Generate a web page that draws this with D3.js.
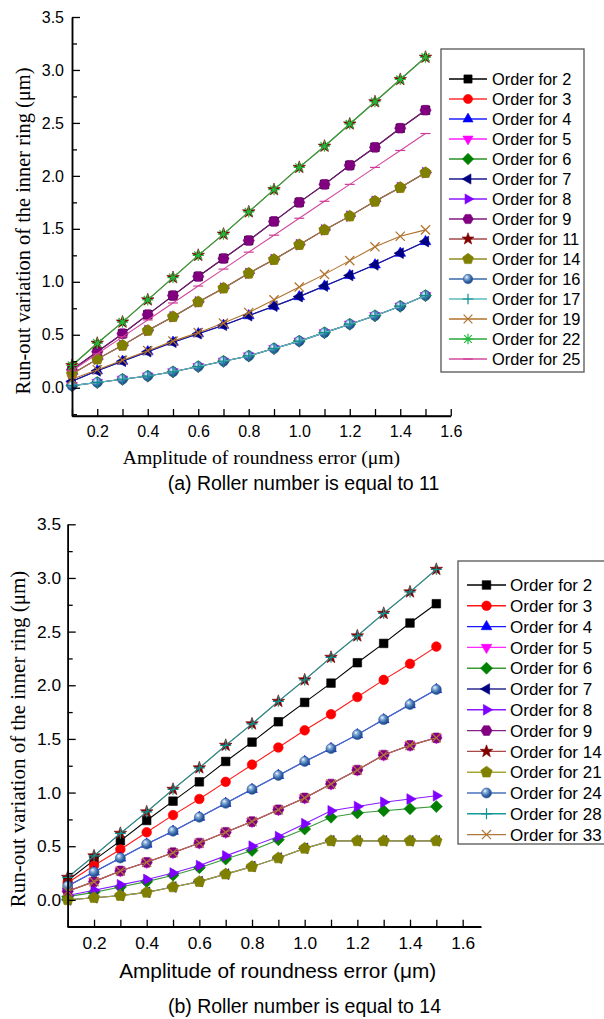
<!DOCTYPE html>
<html>
<head>
<meta charset="utf-8">
<script src="https://cdn.jsdelivr.net/npm/d3@7"></script>
<style>
  body { margin: 0; background: #fff; }
  svg { display: block; }
</style>
</head>
<body>
<svg id="fig" width="604" height="1019"></svg>
<script>
// Amplitude of roundness error (µm), shared by both panels
const amplitude = [0.1, 0.2, 0.3, 0.4, 0.5, 0.6, 0.7, 0.8, 0.9, 1.0, 1.1, 1.2, 1.3, 1.4, 1.5];

// Axis ticks
const xMajorTicks = [0.2, 0.4, 0.6, 0.8, 1.0, 1.2, 1.4, 1.6];
const xMinorTicks = [0.1, 0.3, 0.5, 0.7, 0.9, 1.1, 1.3, 1.5];
const yMajorTicks = [0.0, 0.5, 1.0, 1.5, 2.0, 2.5, 3.0, 3.5];
const yMinorTicks = [-0.25, 0.25, 0.75, 1.25, 1.75, 2.25, 2.75, 3.25];

// (a) Roller number 11: run-out variation of the inner ring (µm) per harmonic order
const ordersZ11 = [2, 3, 4, 5, 6, 7, 8, 9, 11, 14, 16, 17, 19, 22, 25];
const z11_o2  = [0.17, 0.34, 0.51, 0.69, 0.87, 1.05, 1.22, 1.39, 1.57, 1.75, 1.92, 2.10, 2.27, 2.45, 2.62];
const z11_o3  = [0.13, 0.27, 0.40, 0.54, 0.67, 0.81, 0.94, 1.08, 1.21, 1.35, 1.49, 1.62, 1.76, 1.89, 2.03];
const z11_o4  = [0.06, 0.16, 0.25, 0.34, 0.43, 0.51, 0.59, 0.68, 0.77, 0.86, 0.96, 1.06, 1.16, 1.27, 1.38];
const z11_o5  = [0.02, 0.05, 0.08, 0.11, 0.15, 0.20, 0.25, 0.30, 0.37, 0.44, 0.52, 0.60, 0.68, 0.77, 0.87];
const z11_o6  = [0.02, 0.05, 0.08, 0.11, 0.15, 0.20, 0.25, 0.30, 0.37, 0.44, 0.52, 0.60, 0.68, 0.77, 0.87];
const z11_o7  = [0.06, 0.16, 0.25, 0.34, 0.43, 0.51, 0.59, 0.68, 0.77, 0.86, 0.96, 1.06, 1.16, 1.27, 1.38];
const z11_o8  = [0.13, 0.27, 0.40, 0.54, 0.67, 0.81, 0.94, 1.08, 1.21, 1.35, 1.49, 1.62, 1.76, 1.89, 2.03];
const z11_o9  = [0.17, 0.34, 0.51, 0.69, 0.87, 1.05, 1.22, 1.39, 1.57, 1.75, 1.92, 2.10, 2.27, 2.45, 2.62];
const z11_o11 = [0.21, 0.42, 0.62, 0.83, 1.04, 1.25, 1.45, 1.66, 1.87, 2.08, 2.28, 2.49, 2.70, 2.91, 3.12];
const z11_o14 = [0.13, 0.27, 0.40, 0.54, 0.67, 0.81, 0.94, 1.08, 1.21, 1.35, 1.49, 1.62, 1.76, 1.89, 2.03];
const z11_o16 = [0.02, 0.05, 0.08, 0.11, 0.15, 0.20, 0.25, 0.30, 0.37, 0.44, 0.52, 0.60, 0.68, 0.77, 0.87];
const z11_o17 = [0.02, 0.05, 0.08, 0.11, 0.15, 0.20, 0.25, 0.30, 0.37, 0.44, 0.52, 0.60, 0.68, 0.77, 0.87];
const z11_o19 = [0.08, 0.17, 0.26, 0.35, 0.44, 0.52, 0.61, 0.71, 0.83, 0.95, 1.07, 1.20, 1.33, 1.43, 1.49];
const z11_o22 = [0.21, 0.42, 0.62, 0.83, 1.04, 1.25, 1.45, 1.66, 1.87, 2.08, 2.28, 2.49, 2.70, 2.91, 3.12];
const z11_o25 = [0.16, 0.32, 0.48, 0.64, 0.80, 0.96, 1.12, 1.28, 1.44, 1.60, 1.76, 1.92, 2.08, 2.24, 2.40];
const valuesZ11 = [z11_o2, z11_o3, z11_o4, z11_o5, z11_o6, z11_o7, z11_o8, z11_o9,
                   z11_o11, z11_o14, z11_o16, z11_o17, z11_o19, z11_o22, z11_o25];

// (b) Roller number 14
const ordersZ14 = [2, 3, 4, 5, 6, 7, 8, 9, 14, 21, 24, 28, 33];
const z14_o2  = [0.18, 0.37, 0.55, 0.74, 0.92, 1.10, 1.29, 1.47, 1.66, 1.84, 2.02, 2.21, 2.39, 2.58, 2.76];
const z14_o3  = [0.16, 0.32, 0.47, 0.63, 0.79, 0.94, 1.10, 1.26, 1.42, 1.58, 1.73, 1.89, 2.05, 2.20, 2.36];
const z14_o4  = [0.13, 0.26, 0.39, 0.52, 0.64, 0.77, 0.90, 1.03, 1.16, 1.29, 1.41, 1.54, 1.68, 1.82, 1.96];
const z14_o5  = [0.08, 0.17, 0.27, 0.35, 0.44, 0.53, 0.63, 0.73, 0.84, 0.95, 1.08, 1.21, 1.35, 1.44, 1.51];
const z14_o6  = [0.03, 0.07, 0.12, 0.17, 0.23, 0.30, 0.38, 0.46, 0.56, 0.66, 0.77, 0.81, 0.83, 0.85, 0.87];
const z14_o7  = [0.00, 0.02, 0.04, 0.07, 0.12, 0.17, 0.24, 0.31, 0.39, 0.48, 0.55, 0.55, 0.55, 0.55, 0.55];
const z14_o8  = [0.04, 0.09, 0.14, 0.19, 0.25, 0.32, 0.41, 0.50, 0.59, 0.71, 0.83, 0.87, 0.91, 0.94, 0.97];
const z14_o9  = [0.08, 0.17, 0.27, 0.35, 0.44, 0.53, 0.63, 0.73, 0.84, 0.95, 1.08, 1.21, 1.35, 1.44, 1.51];
const z14_o14 = [0.21, 0.41, 0.62, 0.82, 1.03, 1.23, 1.44, 1.64, 1.85, 2.05, 2.26, 2.46, 2.67, 2.87, 3.08];
const z14_o21 = [0.00, 0.02, 0.04, 0.07, 0.12, 0.17, 0.24, 0.31, 0.39, 0.48, 0.55, 0.55, 0.55, 0.55, 0.55];
const z14_o24 = [0.13, 0.26, 0.39, 0.52, 0.64, 0.77, 0.90, 1.03, 1.16, 1.29, 1.41, 1.54, 1.68, 1.82, 1.96];
const z14_o28 = [0.21, 0.41, 0.62, 0.82, 1.03, 1.23, 1.44, 1.64, 1.85, 2.05, 2.26, 2.46, 2.67, 2.87, 3.08];
const z14_o33 = [0.08, 0.17, 0.27, 0.35, 0.44, 0.53, 0.63, 0.73, 0.84, 0.95, 1.08, 1.21, 1.35, 1.44, 1.51];
const valuesZ14 = [z14_o2, z14_o3, z14_o4, z14_o5, z14_o6, z14_o7, z14_o8, z14_o9,
                   z14_o14, z14_o21, z14_o24, z14_o28, z14_o33];

// ---------- symbol shapes ----------
function polygon(R, n, startDeg) {
  const pts = d3.range(n).map(i => {
    const a = (startDeg + i * 360 / n) * Math.PI / 180;
    return [R * Math.cos(a), R * Math.sin(a)];
  });
  return "M" + pts.map(p => p[0].toFixed(2) + "," + p[1].toFixed(2)).join("L") + "Z";
}
function starPath(R, r) {
  const pts = d3.range(10).map(i => {
    const a = (-90 + i * 36) * Math.PI / 180;
    const rr = i % 2 ? r : R;
    return [rr * Math.cos(a), rr * Math.sin(a)];
  });
  return "M" + pts.map(p => p[0].toFixed(2) + "," + p[1].toFixed(2)).join("L") + "Z";
}
const shapes = {
  square:   s => `M${-4.3*s},${-4.3*s}h${8.6*s}v${8.6*s}h${-8.6*s}Z`,
  circle:   s => d3.symbol(d3.symbolCircle, Math.PI * Math.pow(4.8*s, 2))(),
  triUp:    s => polygon(6.2*s, 3, -90),
  triDown:  s => polygon(6.2*s, 3, 90),
  triLeft:  s => polygon(6.2*s, 3, 180),
  triRight: s => polygon(6.2*s, 3, 0),
  diamond:  s => polygon(6.0*s, 4, -90),
  hexagon:  s => polygon(5.6*s, 6, 0),
  pentagon: s => polygon(6.0*s, 5, -90),
  star:     s => starPath(6.6*s, 2.7*s),
  sphere:   s => d3.symbol(d3.symbolCircle, Math.PI * Math.pow(5.0*s, 2))(),
  plus:     s => `M${-5.5*s},0H${5.5*s}M0,${-5.5*s}V${5.5*s}`,
  cross:    s => `M${-4.6*s},${-4.6*s}L${4.6*s},${4.6*s}M${-4.6*s},${4.6*s}L${4.6*s},${-4.6*s}`,
  asterisk: s => `M${-5.6*s},0H${5.6*s}M0,${-5.6*s}V${5.6*s}M${-4*s},${-4*s}L${4*s},${4*s}M${-4*s},${4*s}L${4*s},${-4*s}`,
  dash:     s => `M${-5*s},0H${5*s}`
};
const strokeShapes = new Set(["plus", "cross", "asterisk", "dash"]);

// ---------- series styles ----------
const stylesZ11 = [
  { shape: "square",   color: "#000000", line: "#000000" },
  { shape: "circle",   color: "#ff0000", line: "#ff3030" },
  { shape: "triUp",    color: "#0000ff", line: "#2020ff" },
  { shape: "triDown",  color: "#ff00ff", line: "#ff20ff" },
  { shape: "diamond",  color: "#008000", line: "#2a902a" },
  { shape: "triLeft",  color: "#000080", line: "#1a1a8c" },
  { shape: "triRight", color: "#8000ff", line: "#8a1aff" },
  { shape: "hexagon",  color: "#800080", line: "#801a80" },
  { shape: "star",     color: "#800000", line: "#a04848" },
  { shape: "pentagon", color: "#808000", line: "#8c8c20" },
  { shape: "sphere",   color: "#2f62a6", line: "#3a68aa" },
  { shape: "plus",     color: "#108c8c", line: "#5cbcbc" },
  { shape: "cross",    color: "#b0722c", line: "#b0722c" },
  { shape: "asterisk", color: "#1fb83c", line: "#2aa83a" },
  { shape: "dash",     color: "#d03c98", line: "#d0489c" }
];
const stylesZ14 = [
  { shape: "square",   color: "#000000", line: "#000000" },
  { shape: "circle",   color: "#ff0000", line: "#ff1a1a" },
  { shape: "triUp",    color: "#0000ff", line: "#1a1aff" },
  { shape: "triDown",  color: "#ff00ff", line: "#ff2aff" },
  { shape: "diamond",  color: "#008000", line: "#3a9a3a" },
  { shape: "triLeft",  color: "#000080", line: "#2a2a90" },
  { shape: "triRight", color: "#8000ff", line: "#8a1aff" },
  { shape: "hexagon",  color: "#800080", line: "#882088" },
  { shape: "star",     color: "#800000", line: "#a84848" },
  { shape: "pentagon", color: "#808000", line: "#a6a634" },
  { shape: "sphere",   color: "#2f62a6", line: "#4a72bc" },
  { shape: "plus",     color: "#0e9090", line: "#169a9a" },
  { shape: "cross",    color: "#b07838", line: "#b07838" }
];

const svg = d3.select("#fig");
const defs = svg.append("defs");
const grad = defs.append("radialGradient").attr("id", "sphereFill")
  .attr("cx", "38%").attr("cy", "35%").attr("r", "65%").attr("fx", "35%").attr("fy", "30%");
grad.append("stop").attr("offset", "0%").attr("stop-color", "#f4f8ff");
grad.append("stop").attr("offset", "30%").attr("stop-color", "#86acd8");
grad.append("stop").attr("offset", "70%").attr("stop-color", "#3466a8");
grad.append("stop").attr("offset", "100%").attr("stop-color", "#1c4680");

function drawMarker(g, style, cx, cy, s) {
  const p = g.append("path").attr("d", shapes[style.shape](s))
    .attr("transform", `translate(${cx},${cy})`);
  if (strokeShapes.has(style.shape)) {
    p.attr("fill", "none").attr("stroke", style.color).attr("stroke-width", 1.2);
  } else if (style.shape === "sphere") {
    p.attr("fill", "url(#sphereFill)").attr("stroke", "#2a5a98").attr("stroke-width", 0.6);
  } else {
    p.attr("fill", style.color).attr("stroke", style.color).attr("stroke-width", 0.6);
  }
}

function drawPanel(cfg) {
  const x = d3.scaleLinear().domain(cfg.xDomain).range(cfg.xRange);
  const y = d3.scaleLinear().domain(cfg.yDomain).range(cfg.yRange);
  const g = svg.append("g");

  // series: line then markers, in legend order
  const line = d3.line().x((d, i) => x(amplitude[i])).y(d => y(d));
  cfg.values.forEach((vals, k) => {
    const st = cfg.styles[k];
    const sg = g.append("g");
    sg.append("path").attr("d", line(vals)).attr("fill", "none")
      .attr("stroke", st.line).attr("stroke-width", 1.1);
    vals.forEach((v, i) => drawMarker(sg, st, x(amplitude[i]), y(v), cfg.markerScale));
  });

  // axes with inward ticks
  const x0 = cfg.xRange[0], yb = cfg.yRange[0];
  const ax = g.append("g").attr("transform", `translate(0,${yb})`);
  ax.call(d3.axisBottom(x).tickValues(xMajorTicks).tickSizeInner(-7).tickSizeOuter(0)
      .tickPadding(cfg.xPad).tickFormat(d3.format(".1f")));
  ax.append("g").call(d3.axisBottom(x).tickValues(xMinorTicks).tickSizeInner(-7).tickSizeOuter(0)
      .tickFormat(""));
  const ay = g.append("g").attr("transform", `translate(${x0},0)`);
  ay.call(d3.axisLeft(y).tickValues(yMajorTicks).tickSizeInner(-8).tickSizeOuter(0)
      .tickPadding(cfg.yPad).tickFormat(d3.format(".1f")));
  ay.append("g").call(d3.axisLeft(y).tickValues(yMinorTicks).tickSizeInner(-5).tickSizeOuter(0)
      .tickFormat(""));
  [ax, ay].forEach(a => {
    a.attr("font-family", "'Liberation Sans', Arial, sans-serif").attr("font-size", cfg.tickFont);
    a.selectAll("path.domain").attr("stroke", "#000").attr("stroke-width", 1.5);
    a.selectAll("line").attr("stroke", "#000").attr("stroke-width", 1.3);
    a.selectAll("text").attr("fill", "#000");
  });
  ax.select("path.domain").remove();
  ax.append("line").attr("x1", x0).attr("x2", x(cfg.xDomain[1]))
    .attr("y1", 0).attr("y2", 0).attr("stroke", "#000").attr("stroke-width", 1.5);

  // titles
  g.append("text").attr("x", cfg.xTitle.x).attr("y", cfg.xTitle.y).attr("text-anchor", "middle")
    .attr("font-family", cfg.xTitle.family).attr("font-size", cfg.xTitle.size)
    .text("Amplitude of roundness error (\u03bcm)");
  g.append("text").attr("transform", `translate(${cfg.yTitle.x},${cfg.yTitle.y}) rotate(-90)`)
    .attr("text-anchor", "middle").attr("font-family", "'Liberation Serif', 'Times New Roman', serif")
    .attr("font-size", cfg.yTitle.size)
    .text("Run-out variation of the inner ring (\u03bcm)");
  g.append("text").attr("x", cfg.caption.x).attr("y", cfg.caption.y).attr("text-anchor", "middle")
    .attr("font-family", "'Liberation Sans', Arial, sans-serif").attr("font-size", cfg.caption.size)
    .text(cfg.caption.text);

  // legend
  const L = cfg.legend;
  const lg = g.append("g");
  lg.append("rect").attr("x", L.x).attr("y", L.y).attr("width", L.w).attr("height", L.h)
    .attr("fill", "#fff").attr("stroke", "#555").attr("stroke-width", 1.3);
  cfg.orders.forEach((o, k) => {
    const st = cfg.styles[k];
    const cy = L.row0 + k * L.rowStep;
    lg.append("line").attr("x1", L.lineX0).attr("x2", L.lineX1).attr("y1", cy).attr("y2", cy)
      .attr("stroke", st.line).attr("stroke-width", 1.4);
    drawMarker(lg, st, (L.lineX0 + L.lineX1) / 2, cy, cfg.legendMarkerScale);
    lg.append("text").attr("x", L.textX).attr("y", cy).attr("dy", "0.36em")
      .attr("font-family", "'Liberation Sans', Arial, sans-serif").attr("font-size", L.font)
      .text("Order for " + o);
  });
}

drawPanel({
  orders: ordersZ11, values: valuesZ11, styles: stylesZ11,
  xDomain: [0.1, 1.6], xRange: [72, 450.75],
  yDomain: [-0.267, 3.5], yRange: [416, 17],
  xPad: 10, yPad: 8, tickFont: 16, markerScale: 1.0, legendMarkerScale: 0.95,
  xTitle: { x: 261.5, y: 464, size: 19.7, family: "'Liberation Serif', 'Times New Roman', serif" },
  yTitle: { x: 30, y: 231, size: 20.4 },
  caption: { x: 303.5, y: 490, size: 19.5, text: "(a) Roller number is equal to 11" },
  legend: { x: 441, y: 49, w: 143, h: 323, row0: 79, rowStep: 20, lineX0: 449, lineX1: 487,
            textX: 492, font: 16.4 }
});

drawPanel({
  orders: ordersZ14, values: valuesZ14, styles: stylesZ14,
  xDomain: [0.1, 1.67], xRange: [67.7, 481.1],
  yDomain: [-0.25, 3.5], yRange: [926.7, 524.3],
  xPad: 10.5, yPad: 6.7, tickFont: 17.3, markerScale: 1.0, legendMarkerScale: 1.0,
  xTitle: { x: 277.7, y: 977.5, size: 20.8, family: "'Liberation Sans', Arial, sans-serif" },
  yTitle: { x: 25, y: 739, size: 21 },
  caption: { x: 304.5, y: 1013, size: 19.5, text: "(b) Roller number is equal to 14" },
  legend: { x: 458, y: 561, w: 160, h: 283, row0: 585, rowStep: 20.8, lineX0: 467, lineX1: 506,
            textX: 510, font: 17 }
});
</script>
</body>
</html>
